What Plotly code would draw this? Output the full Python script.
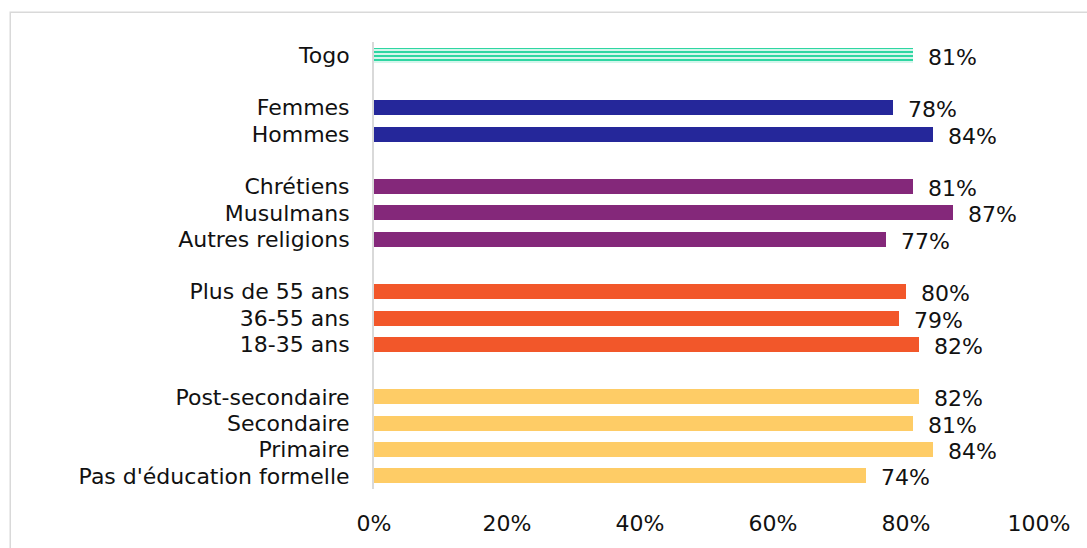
import plotly.graph_objects as go

# Survey shares by population group (percent)
group_labels = [
    ["Togo"],
    ["Femmes", "Hommes"],
    ["Chrétiens", "Musulmans", "Autres religions"],
    ["Plus de 55 ans", "36-55 ans", "18-35 ans"],
    ["Post-secondaire", "Secondaire", "Primaire", "Pas d'éducation formelle"],
]
group_values = [
    [81],
    [78, 84],
    [81, 87, 77],
    [80, 79, 82],
    [82, 81, 84, 74],
]
group_colors = ["#2ED6A2", "#25279A", "#84287A", "#F2572A", "#FECC66"]
x_ticks = [0, 20, 40, 60, 80, 100]
x_tick_labels = ["0%", "20%", "40%", "60%", "80%", "100%"]

FONT = "Century Gothic, URW Gothic, DejaVu Sans, sans-serif"
TEXT_COLOR = "#111111"
FONT_SIZE = 22

fig = go.Figure()

# Row positions: one empty row between groups
pos = 0
all_pos, all_labels = [], []
for gi, (labels, vals) in enumerate(zip(group_labels, group_values)):
    ys = []
    for lab in labels:
        ys.append(pos)
        all_pos.append(pos)
        all_labels.append(lab)
        pos += 1
    pos += 1
    marker = dict(color=group_colors[gi], line=dict(width=0))
    if gi == 0:
        marker = dict(
            color="white",
            line=dict(width=0),
            pattern=dict(shape="-", fgcolor=group_colors[gi], bgcolor="white",
                         size=4, solidity=0.6, fillmode="replace"),
        )
    fig.add_trace(go.Bar(
        x=vals, y=ys, orientation="h", width=0.57,
        marker=marker, showlegend=False, hoverinfo="skip",
    ))
    for y, v in zip(ys, vals):
        fig.add_annotation(
            x=v, y=y, text=f"{v}%", showarrow=False, xanchor="left",
            xshift=13, yshift=-2,
            font=dict(family=FONT, size=FONT_SIZE, color=TEXT_COLOR),
        )

# Outer frame
fig.add_shape(type="rect", xref="paper", yref="paper",
              x0=-0.547, x1=1.2, y0=-0.3, y1=1.0663,
              line=dict(color="#d9d9d9", width=1.5), fillcolor="rgba(0,0,0,0)",
              layer="below")

fig.update_layout(
    width=1087, height=548,
    margin=dict(l=374, r=48, t=42, b=57),
    paper_bgcolor="white", plot_bgcolor="white",
    bargap=0,
    font=dict(family=FONT, size=FONT_SIZE, color=TEXT_COLOR),
    xaxis=dict(
        range=[0, 100], tickvals=x_ticks, ticktext=x_tick_labels,
        showgrid=False, zeroline=False, showline=False, ticks="",
        ticklabelstandoff=19, tickfont=dict(size=FONT_SIZE),
    ),
    yaxis=dict(
        range=[16.5, -0.5], tickvals=all_pos, ticktext=all_labels,
        showgrid=False, zeroline=False, showline=True, linecolor="#d9d9d9",
        linewidth=2, ticks="", ticklabelstandoff=18, tickfont=dict(size=FONT_SIZE),
    ),
)

fig.write_html("out.html")
